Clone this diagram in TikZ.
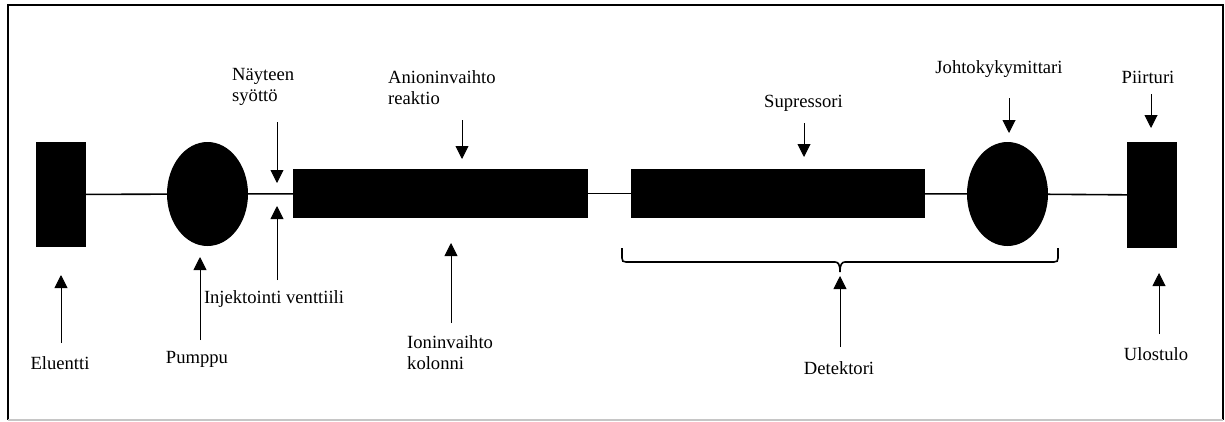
\documentclass[tikz,border=0pt]{standalone}
\usepackage{fontspec}
\setmainfont{Liberation Serif}
\usetikzlibrary{positioning,shapes.geometric,arrows.meta}

\begin{document}
\begin{tikzpicture}[x=1pt, y=-1pt,
            pointer/.style={-{Triangle[length=13pt, width=13pt]}, line width=0.9pt},
            pipe/.style={line width=1.6pt}]
            % Styles for the parts and the labels
            \tikzstyle{blockbox} = [rectangle, fill=black, inner sep=0pt]
            \tikzstyle{roundbox} = [ellipse, fill=black, inner sep=0pt, minimum width=81pt, minimum height=104pt]
            \tikzstyle{caption} = [inner sep=0pt, font=\fontsize{18.6}{21}\selectfont, align=left]
            \useasboundingbox (0,0) rectangle (1225,421);
            % Frame
            \draw[line width=1.6pt] (8,420) -- (8,5) -- (1223,5) -- (1223,420);
            \draw[gray!45, line width=1.2pt] (8,420) -- (1223,420);

            % Define the nodes
            \node (elu) [blockbox, minimum width=50pt, minimum height=105pt] at (61,194.5) {};
            \node (pump) [roundbox] at (207.5,194) {};
            \node (col1) [blockbox, minimum width=295pt, minimum height=49pt] at (440.5,193.5) {};
            \node (col2) [blockbox, minimum width=294pt, minimum height=49pt] at (778,193.5) {};
            \node (cond) [roundbox] at (1007.5,194) {};
            \node (rec) [blockbox, minimum width=50pt, minimum height=106pt] at (1152,195) {};

            % Tubing
            \draw [pipe] (elu) -- (pump);
            \draw [pipe] (pump) -- (col1);
            \draw [pipe] (col1) -- (col2);
            \draw [pipe] (col2) -- (cond);
            \draw [pipe] (cond) -- (rec);

            % Bracket under the detector parts
            \draw [pipe] (622,248) -- (622,258) .. controls (622,261) and (623,262) .. (626,262)
                -- (835,262) .. controls (838,262) and (840,264) .. (840,272)
                .. controls (840,264) and (842,262) .. (845,262)
                -- (1054,262) .. controls (1057,262) and (1058,261) .. (1058,258) -- (1058,248);

            % Labels
            \node (naylbl) [caption, anchor=west] at (232,87) {Näyteen\\syöttö};
            \node (anilbl) [caption, anchor=west] at (388,88) {Anioninvaihto\\reaktio};
            \node (suplbl) [caption, anchor=west] at (764,103) {Supressori};
            \node (johlbl) [caption] at (999,69) {Johtokykymittari};
            \node (piilbl) [caption] at (1148,77) {Piirturi};
            \node (elulbl) [caption] at (60,363) {Eluentti};
            \node (pumlbl) [caption] at (197,359) {Pumppu};
            \node (injlbl) [caption] at (274,299) {Injektointi venttiili};
            \node (ionlbl) [caption, anchor=west] at (407,353) {Ioninvaihto\\kolonni};
            \node (detlbl) [caption] at (839,368) {Detektori};
            \node (ulolbl) [caption] at (1156,354) {Ulostulo};

            % Arrow ends
            \coordinate (nay-a) at (277,122);  \coordinate (nay-b) at (277,183);
            \coordinate (inj-a) at (277,280);  \coordinate (inj-b) at (277,206);
            \coordinate (ani-a) at (462,120);  \coordinate (ani-b) at (462,159);
            \coordinate (sup-a) at (804,123);  \coordinate (sup-b) at (804,157);
            \coordinate (joh-a) at (1009,98);  \coordinate (joh-b) at (1009,133);
            \coordinate (pii-a) at (1151,94);  \coordinate (pii-b) at (1151,128);
            \coordinate (elu-a) at (61,343);   \coordinate (elu-b) at (61,275);
            \coordinate (pum-a) at (200,340);  \coordinate (pum-b) at (200,257);
            \coordinate (ion-a) at (451,323);  \coordinate (ion-b) at (451,243);
            \coordinate (det-a) at (840,347);  \coordinate (det-b) at (840,276);
            \coordinate (ulo-a) at (1159,334); \coordinate (ulo-b) at (1159,273);

            % Draw the arrows
            \foreach \p in {nay,inj,ani,sup,joh,pii,elu,pum,ion,det,ulo}
                \draw [pointer] (\p-a) -- (\p-b);
        \end{tikzpicture}
\end{document}
